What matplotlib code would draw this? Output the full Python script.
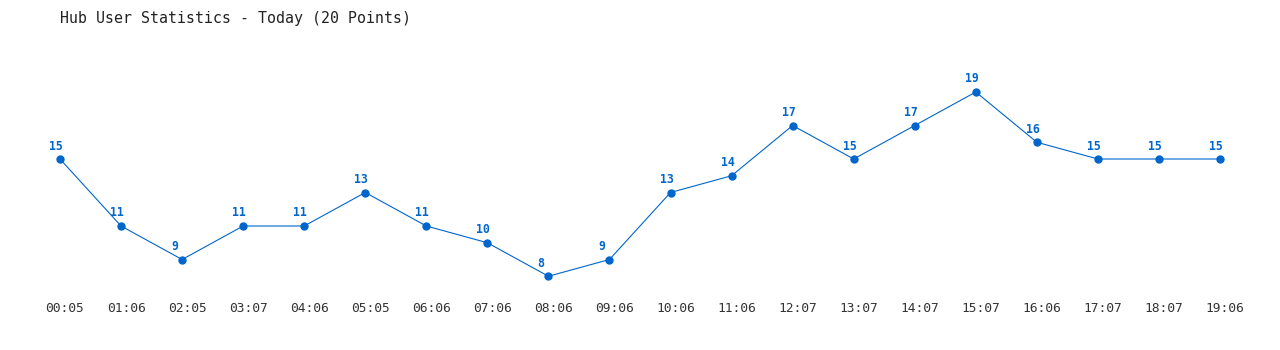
import matplotlib
matplotlib.use("Agg")
import matplotlib.pyplot as plt
import matplotlib.transforms as mtransforms

times = ["00:05", "01:06", "02:05", "03:07", "04:06", "05:05", "06:06", "07:06", "08:06", "09:06",
         "10:06", "11:06", "12:07", "13:07", "14:07", "15:07", "16:06", "17:07", "18:07", "19:06"]
users = [15, 11, 9, 11, 11, 13, 11, 10, 8, 9, 13, 14, 17, 15, 17, 19, 16, 15, 15, 15]
title = "Hub User Statistics - Today (20 Points)"

W, H = 1280, 350
fig = plt.figure(figsize=(W / 100, H / 100), dpi=100)
ax = fig.add_axes([0, 0, 1, 1])
ax.set_axis_off()

dx = 1160 / 19.0
dy = 16.75
ax.set_xlim(-60 / dx, (W - 60) / dx)
ax.set_ylim(15 - (H - 159) / dy, 15 + 159 / dy)

px = 72 / 100.0  # points per pixel
color = "#0066cc"
xs = list(range(len(users)))
ax.plot(xs, users, color=color, lw=0.8, marker="o", ms=5, mec=color, mfc=color)

mono = "DejaVu Sans Mono"
for x, v in zip(xs, users):
    ax.annotate(str(v), (x, v), xytext=(-11 * px, 9.5 * px), textcoords="offset points",
                ha="left", va="baseline", fontsize=8.3, fontweight="bold",
                color=color, family=mono)

trans = mtransforms.blended_transform_factory(ax.transData, fig.transFigure)
for x, t in zip(xs, times):
    ax.annotate(t, (x, 1 - 308 / H), xycoords=trans, xytext=(5 * px, 0),
                textcoords="offset points", ha="center", va="center",
                fontsize=9.3, color="#333333", family=mono)

fig.text(60 / W, 1 - 18 / H, title, ha="left", va="center", fontsize=10.75,
         color="#222222", family=mono)

fig.savefig("out.png", dpi=100, facecolor="white")
